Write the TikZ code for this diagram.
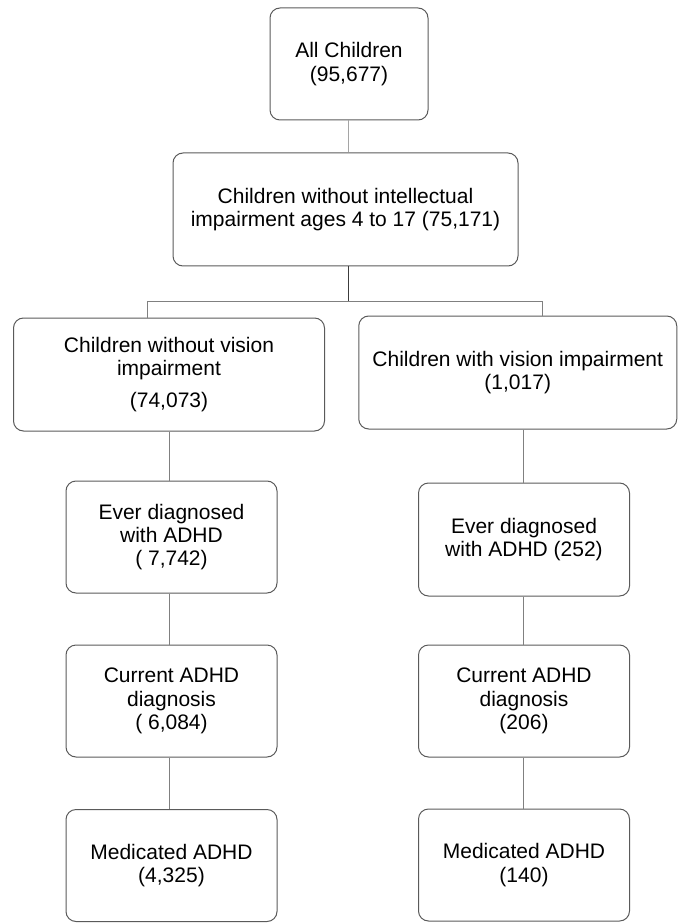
\documentclass[tikz,border=0pt]{standalone}
\usepackage{fontspec}
\setmainfont{Liberation Sans}
\usepackage{tikz}

\begin{document}
\begin{tikzpicture}[x=0.75pt,y=0.75pt,yscale=-1,xscale=1,
  stage/.style={draw={rgb, 255:red, 90; green, 90; blue, 90 }, line width=0.75, rounded corners=7.5pt, align=center, inner sep=0.75pt, font=\fontsize{15.75}{17.5}\selectfont},
  link/.style={draw={rgb, 255:red, 128; green, 128; blue, 128 }, line width=0.75}]
%set diagram size to 678 x 923
\useasboundingbox (0,0) rectangle (678,923);

% Text Node
\node [stage, minimum width=118.5pt, minimum height=84pt] (all) at (349,64) {All Children\\(95,677)};
% Text Node
\node [stage, minimum width=258.75pt, minimum height=84.75pt] (noint) at (345.5,209.5) {Children without intellectual\\impairment ages 4 to 17 (75,171)};
% Text Node
\node [stage, minimum width=233.25pt, minimum height=84.75pt] (novis) at (169,374.5) {Children without vision\\impairment\\[6.3pt](74,073)};
% Text Node
\node [stage, minimum width=238.5pt, minimum height=84.75pt] (vis) at (517.75,372.5) {Children with vision impairment\\(1,017)};
% Text Node
\node [stage, minimum width=158.25pt, minimum height=84pt] (everL) at (171.5,537) {Ever diagnosed\\with ADHD\\( 7,742)};
% Text Node
\node [stage, minimum width=158.25pt, minimum height=84pt] (curL) at (171.5,701) {Current ADHD\\diagnosis\\( 6,084)};
% Text Node
\node [stage, minimum width=158.25pt, minimum height=84pt] (medL) at (171.5,865.5) {Medicated ADHD\\(4,325)};
% Text Node
\node [stage, minimum width=158.25pt, minimum height=84.75pt] (everR) at (524,539.5) {Ever diagnosed\\with ADHD (252)};
% Text Node
\node [stage, minimum width=158.25pt, minimum height=84pt] (curR) at (524,701) {Current ADHD\\diagnosis\\(206)};
% Text Node
\node [stage, minimum width=158.25pt, minimum height=84pt] (medR) at (524,865) {Medicated ADHD\\(140)};

%Straight Lines
\coordinate (split) at (348.5,301);
\coordinate (jL) at (147.5,301);
\coordinate (jR) at (542.5,301);
\draw [draw={rgb, 255:red, 165; green, 165; blue, 165 }, line width=1.2] (all.south -| split) -- (noint.north -| split);
\draw [link, draw={rgb, 255:red, 60; green, 60; blue, 60 }] (noint.south -| split) -- (split);
\draw [link] (novis.north -| jL) -- (jL) -- (jR) -- (vis.north -| jR);
%Straight Lines
\draw [link] (novis.south -| 169.5,0) -- (everL.north -| 169.5,0);
\draw [link] (everL.south -| 169.5,0) -- (curL.north -| 169.5,0);
\draw [link] (curL.south -| 169.5,0) -- (medL.north -| 169.5,0);
%Straight Lines
\draw [link] (vis.south -| 523,0) -- (everR.north -| 523,0);
\draw [link] (everR.south -| 523,0) -- (curR.north -| 523,0);
\draw [link] (curR.south -| 523,0) -- (medR.north -| 523,0);

\end{tikzpicture}
\end{document}
